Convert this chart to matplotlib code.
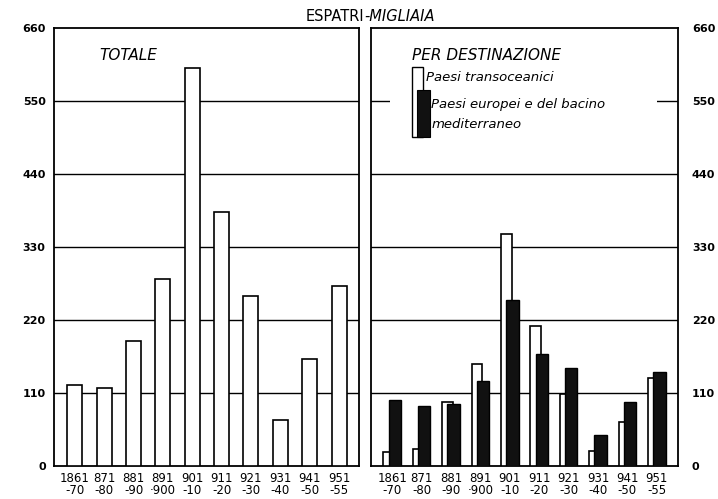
import numpy as np
import matplotlib
matplotlib.use('Agg')
import matplotlib.pyplot as plt
import matplotlib.patches as mpatches

plt.rcParams['font.family'] = ['DejaVu Sans']

# Periods (decades) and emigrants in thousands
periods = ['1861\n-70', '871\n-80', '881\n-90', '891\n·900', '901\n-10',
           '911\n-20', '921\n-30', '931\n-40', '941\n-50', '951\n-55']
totale = [122, 117, 189, 282, 600, 382, 256, 69, 162, 271]
transoceanici = [21, 26, 96, 154, 350, 211, 108, 22, 67, 132]
europei = [99, 91, 94, 128, 250, 169, 147, 46, 97, 141]

yticks = [0, 110, 220, 330, 440, 550, 660]

fig = plt.figure(figsize=(7.18, 4.99), dpi=100)
ax1 = fig.add_axes([0.0752, 0.0661, 0.4248, 0.8778])
ax2 = fig.add_axes([0.5167, 0.0661, 0.4276, 0.8778])

x = np.arange(len(periods))

# Left panel: total
for yv in yticks[1:-1]:
    ax1.axhline(yv, color='black', lw=1.0, zorder=1)
ax1.bar(x, totale, width=0.51, color='white', edgecolor='black', lw=1.2, zorder=3)
ax1.set_xlim(-0.71, 9.68)
ax1.set_ylim(0, 660)
ax1.text(0.15, 0.955, 'TOTALE', transform=ax1.transAxes, fontsize=11,
         style='italic', va='top', ha='left')

# Right panel: by destination
for yv in yticks[1:-1]:
    ax2.axhline(yv, color='black', lw=1.0, zorder=1)
ax2.bar(x - 0.30, transoceanici, width=0.37, align='edge', color='white',
        edgecolor='black', lw=1.2, zorder=3)
ax2.bar(x - 0.12, europei, width=0.42, align='edge', color='#111111',
        edgecolor='black', lw=1.0, zorder=4)
ax2.set_xlim(-0.72, 9.72)
ax2.set_ylim(0, 660)
ax2.text(0.135, 0.955, 'PER DESTINAZIONE', transform=ax2.transAxes, fontsize=11,
         style='italic', va='top', ha='left')

# legend block (hand drawn like the original), blanking the 550 line behind it
ax2.add_patch(mpatches.Rectangle((0.062, 0.76), 0.87, 0.19, transform=ax2.transAxes,
                                 facecolor='white', edgecolor='none', zorder=2))
ax2.add_patch(mpatches.Rectangle((0.135, 0.751), 0.034, 0.16, transform=ax2.transAxes,
                                 facecolor='white', edgecolor='black', lw=1.0, zorder=5))
ax2.add_patch(mpatches.Rectangle((0.151, 0.751), 0.042, 0.108, transform=ax2.transAxes,
                                 facecolor='#111111', edgecolor='black', lw=0.8, zorder=6))
ax2.text(0.18, 0.888, 'Paesi transoceanici', transform=ax2.transAxes, fontsize=9.5,
         style='italic', va='center', ha='left')
ax2.text(0.197, 0.826, 'Paesi europei e del bacino', transform=ax2.transAxes, fontsize=9.5,
         style='italic', va='center', ha='left')
ax2.text(0.197, 0.78, 'mediterraneo', transform=ax2.transAxes, fontsize=9.5,
         style='italic', va='center', ha='left')

for ax in (ax1, ax2):
    ax.set_xticks(x)
    ax.set_xticklabels(periods, fontsize=8.5, linespacing=0.95)
    ax.set_yticks(yticks)
    ax.tick_params(length=0, pad=4)
    for sp in ax.spines.values():
        sp.set_linewidth(1.3)

ax1.set_yticklabels([str(v) for v in yticks], fontsize=8, fontweight='bold')
ax1.tick_params(axis='y', pad=6)
ax2.yaxis.tick_right()
ax2.set_yticklabels([str(v) for v in yticks], fontsize=8, fontweight='bold')
ax2.tick_params(axis='y', pad=10)

fig.text(0.508, 0.967, 'ESPATRI', fontsize=10.5, ha='right', va='center')
fig.text(0.508, 0.967, '-MIGLIAIA', fontsize=10.5, ha='left', va='center', style='italic')

fig.savefig('out.png', dpi=100)
